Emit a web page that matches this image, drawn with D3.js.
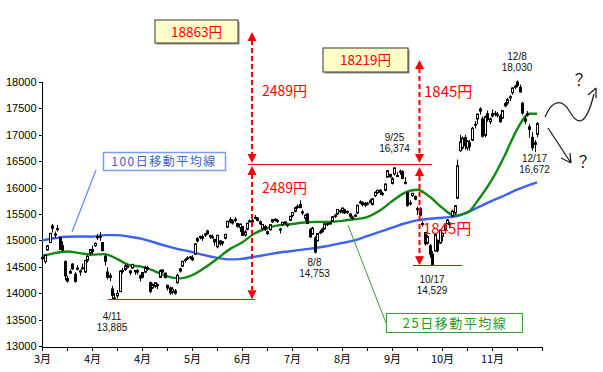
<!DOCTYPE html>
<html>
<head>
<meta charset="utf-8">
<title>日経平均 2014</title>
<script src="https://d3js.org/d3.v7.min.js"></script>
<style>
body { margin: 0; background: #fff; }
svg text { font-family: "Liberation Sans", Arial, sans-serif; }
.jp { font-family: "Noto Sans CJK JP", sans-serif; }
.axis path, .axis line { stroke: #000; shape-rendering: crispEdges; }
</style>
</head>
<body>
<svg id="chart" width="603" height="372"></svg>
<script>
// daily candles, Mar 3 - Dec 18
var days = [
  "3/3","3/4","3/5","3/6","3/7","3/10","3/11","3/12","3/13","3/14","3/17","3/18","3/19","3/20","3/24","3/25","3/26","3/27","3/28","3/31",
  "4/1","4/2","4/3","4/4","4/7","4/8","4/9","4/10","4/11","4/14","4/15","4/16","4/17","4/18","4/21","4/22","4/23","4/24","4/25","4/28","4/30",
  "5/1","5/2","5/7","5/8","5/9","5/12","5/13","5/14","5/15","5/16","5/19","5/20","5/21","5/22","5/23","5/26","5/27","5/28","5/29","5/30",
  "6/2","6/3","6/4","6/5","6/6","6/9","6/10","6/11","6/12","6/13","6/16","6/17","6/18","6/19","6/20","6/23","6/24","6/25","6/26","6/27","6/30",
  "7/1","7/2","7/3","7/4","7/7","7/8","7/9","7/10","7/11","7/14","7/15","7/16","7/17","7/18","7/22","7/23","7/24","7/25","7/28","7/29","7/30","7/31",
  "8/1","8/4","8/5","8/6","8/7","8/8","8/11","8/12","8/13","8/14","8/15","8/18","8/19","8/20","8/21","8/22","8/25","8/26","8/27","8/28","8/29",
  "9/1","9/2","9/3","9/4","9/5","9/8","9/9","9/10","9/11","9/12","9/16","9/17","9/18","9/19","9/22","9/24","9/25","9/26","9/29","9/30",
  "10/1","10/2","10/3","10/6","10/7","10/8","10/9","10/10","10/14","10/15","10/16","10/17","10/20","10/21","10/22","10/23","10/24","10/27","10/28","10/29","10/30","10/31",
  "11/4","11/5","11/6","11/7","11/10","11/11","11/12","11/13","11/14","11/17","11/18","11/19","11/20","11/21","11/25","11/26","11/27","11/28",
  "12/1","12/2","12/3","12/4","12/5","12/8","12/9","12/10","12/11","12/12","12/15","12/16","12/17","12/18"
];
var opens = [
  14680,14600,14820,14960,15230,15120,15210,15060,14900,14600,14230,14380,14550,14360,14460,14400,14480,14400,14620,14760,
  14830,14900,15050,15080,14960,14700,14400,14330,14080,13900,13950,14030,14430,14450,14490,14420,14480,14430,14400,14330,14390,
  14400,14480,14200,14100,14130,14160,14300,14440,14380,14150,14100,14020,14000,14200,14420,14510,14620,14650,14690,14670,
  14740,14990,15060,15040,15100,15180,15090,15060,15020,14880,14990,14950,15040,15250,15400,15330,15400,15320,15240,15260,15100,
  15210,15360,15380,15420,15420,15350,15220,15260,15130,15200,15350,15400,15380,15200,15300,15350,15300,15380,15470,15550,15620,15680,
  15540,15420,15500,15200,15120,15050,14990,15150,15170,15220,15300,15330,15360,15480,15500,15560,15560,15580,15550,15500,15440,
  15460,15520,15720,15720,15700,15690,15720,15680,15850,15900,15950,15890,15950,16200,16250,16080,16260,16230,16300,16300,
  16100,15900,15700,15850,15830,15600,15600,15320,15150,14950,14900,14740,14800,15000,14950,15080,15200,15320,15300,15460,15520,15800,
  16700,16750,16950,16750,16850,16900,17200,17300,17450,17300,16990,17400,17250,17400,17400,17380,17350,17320,
  17550,17600,17700,17800,17900,18000,17900,17600,17300,17400,17150,16950,16850,17009
];
var highs = [
  14720,14740,14910,15140,15312,15170,15290,15070,14980,14620,14330,14450,14570,14400,14530,14450,14560,14630,14720,14840,
  14900,14960,15120,15160,14970,14730,14490,14380,14140,14000,14060,14430,14480,14550,14560,14440,14550,14440,14460,14350,14400,
  14520,14520,14220,14190,14210,14190,14450,14450,14390,14160,14130,14120,14080,14370,14480,14620,14660,14700,14710,14720,
  14940,15060,15090,15110,15140,15200,15110,15110,15030,15100,15000,14990,15120,15370,15440,15400,15440,15330,15320,15270,15200,
  15330,15400,15410,15480,15440,15380,15310,15290,15190,15300,15400,15420,15400,15240,15350,15360,15320,15460,15530,15640,15680,15760,
  15580,15500,15520,15230,15260,15080,15140,15200,15240,15330,15340,15360,15460,15500,15590,15580,15620,15600,15560,15520,15470,
  15500,15670,15760,15740,15730,15730,15780,15800,15930,15960,15970,15920,16080,16330,16260,16200,16374,16290,16340,16330,
  16200,15920,15760,15900,15850,15640,15630,15360,15160,15100,14930,14800,15120,15020,15200,15140,15300,15400,15350,15580,15670,16533,
  17000,16970,17000,16900,16900,17150,17260,17400,17520,17350,17360,17460,17330,17480,17450,17430,17390,17470,
  17620,17700,17750,17900,17950,18030,17950,17620,17350,17450,17200,17050,16900,17240
];
var lows = [
  14566,14560,14800,14950,15150,15050,15170,14820,14800,14240,14200,14370,14440,14200,14430,14330,14450,14380,14580,14710,
  14740,14880,15010,14990,14790,14520,14260,14230,13885,13890,13900,14020,14370,14420,14470,14340,14460,14350,14350,14220,14280,
  14380,14430,14000,14080,14100,14080,14290,14380,14280,14050,13964,13980,13970,14180,14390,14500,14580,14630,14640,14610,
  14730,14960,15020,14990,15060,15110,15030,15030,14900,14850,14900,14900,15020,15240,15320,15300,15340,15240,15160,15090,15070,
  15190,15340,15320,15400,15360,15290,15200,15180,15100,15190,15330,15360,15330,15130,15270,15300,15250,15370,15440,15530,15600,15610,
  15480,15370,15310,15050,15110,14753,14980,15120,15140,15200,15270,15300,15350,15420,15480,15510,15510,15500,15500,15420,15390,
  15440,15500,15690,15640,15630,15660,15700,15660,15820,15880,15860,15840,15930,16190,16180,16060,16230,16200,16240,16170,
  16060,15640,15660,15820,15760,15480,15460,15260,14900,14920,14670,14529,14790,14770,14940,14980,15180,15300,15240,15440,15480,15780,
  16680,16720,16720,16700,16700,16880,17120,17200,17380,16950,16950,17250,17200,17330,17350,17330,17230,17300,
  17520,17560,17640,17760,17860,17900,17800,17380,17200,17350,16950,16700,16672,16950
];
var closes = [
  14652,14721,14897,15134,15274,15120,15224,14830,14815,14327,14277,14411,14462,14224,14475,14423,14477,14622,14696,14827,
  14791,14946,15071,15063,14808,14606,14299,14300,13960,13910,13996,14417,14417,14516,14512,14388,14546,14404,14429,14288,14304,
  14485,14457,14033,14163,14199,14149,14425,14405,14298,14097,14006,14075,14042,14337,14462,14602,14636,14670,14681,14632,
  14935,15034,15075,15069,15124,15124,15069,15070,14973,15097,14933,14975,15115,15361,15349,15369,15376,15266,15308,15095,15162,
  15326,15369,15348,15437,15379,15314,15302,15216,15164,15297,15395,15379,15370,15215,15343,15328,15284,15457,15529,15618,15646,15620,
  15523,15474,15320,15066,15232,14778,15130,15161,15213,15314,15318,15322,15449,15454,15586,15539,15613,15521,15534,15459,15424,
  15476,15668,15728,15676,15668,15705,15749,15788,15909,15948,15911,15888,16067,16321,16205,16167,16374,16229,16310,16173,
  16082,15661,15708,15890,15783,15595,15478,15300,14936,15073,14738,14532,15111,14804,15195,15138,15291,15388,15329,15553,15658,16413,
  16862,16937,16792,16880,16780,17124,17197,17392,17490,16973,17344,17288,17300,17357,17407,17383,17248,17459,
  17590,17663,17720,17887,17920,17935,17813,17412,17257,17371,17099,16755,16819,17210
];

// moving averages (slot index -> value)
var maSlots = [0,5,10,15,20,25,30,35,40,45,50,55,60,65,70,75,80,85,90,95,100,105,110,115,120,125,130,135,140,145,150,155,160,165,170,175,180,185,190,195,198];
var ma25 = [14700,14760,14790,14760,14730,14740,14650,14530,14500,14420,14320,14280,14340,14480,14650,14830,14960,15130,15230,15290,
            15310,15340,15350,15350,15370,15400,15440,15560,15740,15900,15960,15830,15620,15470,15520,15800,16150,16600,17100,17400,17400];
var ma100 = [15000,15040,15070,15075,15070,15100,15100,15070,15030,14960,14890,14830,14780,14720,14670,14640,14650,14690,14730,14770,
             14800,14830,14860,14900,14950,15000,15080,15160,15240,15320,15380,15410,15430,15450,15530,15640,15750,15850,15960,16050,16100];

var yTicks = [13000,13500,14000,14500,15000,15500,16000,16500,17000,17500,18000];
var monthLabels = ["3月","4月","4月","5月","6月","7月","8月","9月","10月","11月"];

var svg = d3.select("#chart");
var x = d3.scaleLinear().domain([0, 200]).range([42, 542]);
var y = d3.scaleLinear().domain([13000, 18000]).range([346, 82]);

// axes
svg.append("g").attr("class", "axis")
  .attr("transform", "translate(42.5,0)")
  .call(d3.axisLeft(y).tickValues(yTicks).tickSize(4).tickSizeOuter(0).tickFormat(d3.format("d")))
  .call(function(g) {
    g.selectAll("text").attr("font-size", 11).attr("fill", "#000").attr("x", -6);
    g.select(".domain").attr("d", "M0,82V346");
  });

var xTicks = d3.range(0, 201, 10);
svg.append("g").attr("class", "axis")
  .attr("transform", "translate(0,346.5)")
  .call(d3.axisBottom(x).tickValues(xTicks).tickSize(4).tickSizeOuter(0)
    .tickFormat(function(d) { return d % 20 === 0 && d / 20 < monthLabels.length ? monthLabels[d / 20] : ""; }))
  .call(function(g) {
    g.selectAll("text").attr("class", "jp").attr("font-size", 11).attr("fill", "#000").attr("dy", "0.85em");
  });

// moving averages
var line = d3.line()
  .x(function(d) { return x(d[0]); })
  .y(function(d) { return y(d[1]); })
  .curve(d3.curveMonotoneX);

svg.append("path")
  .attr("d", line(maSlots.map(function(s, i) { return [s, ma100[i]]; })))
  .attr("fill", "none").attr("stroke", "#3a63f0").attr("stroke-width", 2.4);

svg.append("path")
  .attr("d", line(maSlots.map(function(s, i) { return [s, ma25[i]]; })))
  .attr("fill", "none").attr("stroke", "#118811").attr("stroke-width", 2.4);

// candles
var candles = svg.append("g");
days.forEach(function(d, i) {
  var cx = Math.round(x(i));
  candles.append("line")
    .attr("x1", cx + 0.5).attr("x2", cx + 0.5)
    .attr("y1", y(highs[i])).attr("y2", y(lows[i]))
    .attr("stroke", "#000").attr("stroke-width", 1);
  var top = y(Math.max(opens[i], closes[i]));
  var bot = y(Math.min(opens[i], closes[i]));
  candles.append("rect")
    .attr("x", cx - 0.5).attr("width", 2)
    .attr("y", top).attr("height", Math.max(bot - top, 1))
    .attr("fill", closes[i] >= opens[i] ? "#fff" : "#000")
    .attr("stroke", "#000").attr("stroke-width", 1);
});

// annotations
var red = "#ff0000";
function tri(px, tip, dir) {
  // dir -1 points up, +1 points down
  var b = tip - dir * 9;
  svg.append("path")
    .attr("d", "M" + px + "," + tip + "L" + (px - 4.5) + "," + b + "L" + (px + 4.5) + "," + b + "Z")
    .attr("fill", red);
}
function dashed(px, y1, y2) {
  svg.append("line").attr("x1", px).attr("x2", px).attr("y1", y1).attr("y2", y2)
    .attr("stroke", red).attr("stroke-width", 2).attr("stroke-dasharray", "5,3");
}
function hline(x1, x2, py) {
  svg.append("line").attr("x1", x1).attr("x2", x2).attr("y1", py).attr("y2", py)
    .attr("stroke", red).attr("stroke-width", 1).attr("shape-rendering", "crispEdges");
}

var ax1 = x(84), ax2 = x(151);
var yTop = 164;
hline(108, 255, Math.round(y(13885)) + 0.5);
hline(248, 432, yTop + 0.5);
hline(413, 462, Math.round(y(14529)) + 0.5);

dashed(ax1, 40, 155); tri(ax1, 32, -1); tri(ax1, yTop - 1, 1);
dashed(ax1, 174, 290); tri(ax1, yTop + 2, -1); tri(ax1, y(13885), 1);
dashed(ax2, 68, 155); tri(ax2, 60, -1); tri(ax2, yTop - 1, 1);
dashed(ax2, 176, 257); tri(ax2, yTop + 3, -1); tri(ax2, y(14529), 1);

function redText(t, px, py, size) {
  svg.append("text").attr("class", "jp").attr("x", px).attr("y", py)
    .attr("font-size", size).attr("fill", red).text(t);
}
redText("2489円", 262, 96, 14);
redText("2489円", 262, 193, 14);
redText("1845円", 424, 97, 15);
redText("1845円", 423, 234, 15);

function boxLabel(t, x0, y0, w, h) {
  svg.append("rect").attr("x", x0 + 1.5).attr("y", y0 + 1.5).attr("width", w).attr("height", h).attr("fill", "#8a8a8a");
  svg.append("rect").attr("x", x0).attr("y", y0).attr("width", w).attr("height", h)
    .attr("fill", "#ffffc8").attr("stroke", "#555").attr("stroke-width", 1.2);
  svg.append("text").attr("class", "jp").attr("x", x0 + w / 2).attr("y", y0 + h / 2 + 5)
    .attr("text-anchor", "middle").attr("font-size", 13.5).attr("fill", red).text(t);
}
boxLabel("18863円", 155, 20, 83, 23);
boxLabel("18219円", 323, 48, 85, 24);

// point labels
var notes = [
  { day: "4/11", val: "13,885", y: 320 },
  { day: "8/8", val: "14,753", y: 266 },
  { day: "10/17", val: "14,529", y: 283 },
  { day: "9/25", val: "16,374", y: 141 },
  { day: "12/8", val: "18,030", y: 60 },
  { day: "12/17", val: "16,672", y: 162 }
];
notes.forEach(function(n) {
  var px = x(days.indexOf(n.day));
  var t = svg.append("text").attr("text-anchor", "middle").attr("font-size", 10).attr("fill", "#111");
  t.append("tspan").attr("x", px).attr("y", n.y).text(n.day);
  t.append("tspan").attr("x", px).attr("y", n.y + 11).text(n.val);
});

// legend call-outs
svg.append("line").attr("x1", 96).attr("y1", 170).attr("x2", 72).attr("y2", 232)
  .attr("stroke", "#6d8cf0").attr("stroke-width", 1.3);
svg.append("rect").attr("x", 103.5).attr("y", 152.5).attr("width", 122).attr("height", 18)
  .attr("fill", "#fff").attr("stroke", "#7f9bf0").attr("stroke-width", 1.5);
svg.append("text").attr("class", "jp").attr("x", 164).attr("y", 166).attr("text-anchor", "middle")
  .attr("font-size", 12).attr("letter-spacing", 1.5).attr("fill", "#3f5fc0").text("100日移動平均線");

svg.append("line").attr("x1", 348).attr("y1", 225).attr("x2", 386).attr("y2", 323)
  .attr("stroke", "#3a9a3a").attr("stroke-width", 1);
svg.append("rect").attr("x", 386.5).attr("y", 313.5).attr("width", 136).attr("height", 19)
  .attr("fill", "#fff").attr("stroke", "#3a9a3a").attr("stroke-width", 1);
svg.append("text").attr("class", "jp").attr("x", 455).attr("y", 328).attr("text-anchor", "middle")
  .attr("font-size", 13).attr("letter-spacing", 1.5).attr("fill", "#2a962a").text("25日移動平均線");

// outlook arrows
svg.append("path")
  .attr("d", "M545,117 C552,100 562,98 570,112 C578,126 586,126 594,94")
  .attr("fill", "none").attr("stroke", "#222").attr("stroke-width", 1.3);
svg.append("path").attr("d", "M596,88 L588,95 M596,88 L596,98")
  .attr("fill", "none").attr("stroke", "#222").attr("stroke-width", 1.3);
svg.append("path").attr("d", "M548,128 L571,163 M571,163 L561,158 M571,163 L570,153")
  .attr("fill", "none").attr("stroke", "#222").attr("stroke-width", 1.3);
svg.append("text").attr("class", "jp").attr("x", 579).attr("y", 85).attr("text-anchor", "middle")
  .attr("font-size", 15).attr("fill", "#111").text("？");
svg.append("text").attr("class", "jp").attr("x", 583).attr("y", 167).attr("text-anchor", "middle")
  .attr("font-size", 15).attr("fill", "#111").text("？");
</script>
</body>
</html>
